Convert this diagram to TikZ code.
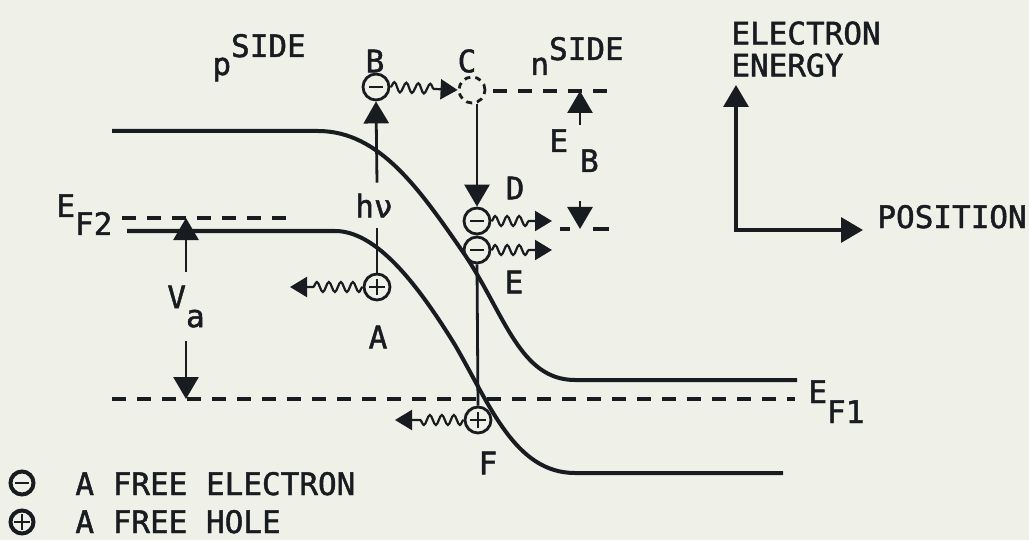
\documentclass[tikz,border=0pt]{standalone}
\usepackage{fontspec}
\setmonofont[BoldFont={DejaVu Sans Mono},BoldFeatures={FakeBold=1.5}]{DejaVu Sans Mono}
\usepackage{tikz}
\usetikzlibrary{arrows.meta,positioning,decorations.pathmorphing}
\definecolor{ScanPaper}{HTML}{EFF1E8}
\definecolor{ScanInk}{HTML}{181B20}

\begin{document}
\begin{tikzpicture}[x=0.5pt,y=-0.5pt,
  every node/.style={font=\fontsize{15.5}{16}\selectfont\ttfamily\bfseries, text=ScanInk, inner sep=0pt},
  band/.style={draw=ScanInk, line width=2pt},
  level/.style={draw=ScanInk, line width=1.8pt, dash pattern=on 7pt off 5.5pt},
  arr/.style={draw=ScanInk, line width=1.4pt, -{Triangle[length=11pt,width=12.5pt]}},
  wavy/.style={draw=ScanInk, line width=1.1pt, -{Triangle[length=8.5pt,width=10pt]}, decorate, decoration={snake, amplitude=2.5pt, segment length=6pt, post length=10pt}},
  particle/.style={circle, draw=ScanInk, line width=1.4pt, minimum size=13pt},
  electron/.style={particle, path picture={\draw[ScanInk, line width=1.4pt] ([xshift=-3.4pt]path picture bounding box.center) -- ([xshift=3.4pt]path picture bounding box.center);}},
  hole/.style={particle, path picture={\draw[ScanInk, line width=1.4pt] ([xshift=-3.8pt]path picture bounding box.center) -- ([xshift=3.8pt]path picture bounding box.center) ([yshift=-3.8pt]path picture bounding box.center) -- ([yshift=3.8pt]path picture bounding box.center);}},
  keymark/.style={minimum size=11.5pt, line width=2pt}
]
\fill[ScanPaper] (0,0) rectangle (1029,540);
\useasboundingbox (0,0) rectangle (1029,540);
% energy bands
\draw[band] (112,131) -- (318,131) .. controls (380,131) and (420,190) .. (465,255) .. controls (505,315) and (520,380) .. (575,380) -- (797,380);
\draw[band] (127,231) -- (335,231) .. controls (375,231) and (415,280) .. (455,345) .. controls (490,405) and (515,473) .. (575,473) -- (783,473);
% dashed levels
\coordinate (ef2l) at (122,218); \coordinate (ef2r) at (290,218);
\coordinate (ef1l) at (112,399); \coordinate (ef1r) at (795,399);
\coordinate (cl) at (493,91); \coordinate (cr) at (617,91);
\coordinate (dl) at (560,229); \coordinate (dr) at (610,229);
\draw[level] (ef2l) -- (ef2r);
\draw[level] (ef1l) -- (ef1r);
\draw[level] (cl) -- (cr);
\draw[level, dash pattern=on 5pt off 11.5pt on 8pt off 5pt] (dl) -- (dr);
% carriers
\node[electron] (B) at (376,87) {};
\node[circle, draw=ScanInk, line width=1.4pt, dash pattern=on 3pt off 2.5pt, minimum size=13pt] (C) at (472,90) {};
\node[electron] (D) at (477,221) {};
\node[electron] (E) at (477,250) {};
\node[hole] (A) at (377,287) {};
\node[hole] (F) at (478,420) {};
\node (labB) at (375,61) {B};
\node (labC) at (467,61) {C};
\node (labD) at (515,188) {D};
\node (labE) at (514,282) {E};
\node (labA) at (378,337) {A};
\node (labF) at (488,463) {F};
\node[minimum height=22.5pt] (hv) at (374,205.5) {hν};
% transitions
\draw[ScanInk, line width=1.4pt] (A.north) -- (A.north |- hv.south);
\draw[arr] (A.north |- hv.north) -- (B.south);
\draw[arr] (C.south -| D.north) -- (D.north);
\draw[ScanInk, line width=1.4pt] (E.south) -- (F.north);
\coordinate (dEnd) at (552,221); \coordinate (eEnd) at (552,250);
\coordinate (aEnd) at (290,287); \coordinate (fEnd) at (395,420);
\draw[wavy] (B.east) -- (C.west);
\draw[wavy] (D.east) -- (dEnd);
\draw[wavy] (E.east) -- (eEnd);
\draw[wavy] (A.west) -- (aEnd);
\draw[wavy] (F.west) -- (fEnd);
% V_a and E_B
\node[minimum height=34pt] (Va) at (186,306.5) {V\raisebox{-9.5pt}{a}};
\draw[arr] (Va.north) -- (Va.north |- ef2l);
\draw[arr] (Va.south) -- (Va.south |- ef1l);
\node[anchor=base west] (EB) at (549,152) {E\hspace{6pt}\raisebox{-10pt}{B}};
\coordinate (ebUp) at (580,125); \coordinate (ebDown) at (580,201);
\draw[arr] (ebUp) -- (ebUp |- cl);
\draw[arr] (ebDown) -- (ebDown |- dl);
% level and side labels
\node[anchor=base west] (EF2) at (56,217) {E\raisebox{-9pt}{F2}};
\node[anchor=base west] (EF1) at (808,403) {E\raisebox{-10pt}{F1}};
\node[anchor=base west] (pside) at (212,75) {p\raisebox{9pt}{SIDE}};
\node[anchor=base west] (nside) at (530,75) {n\raisebox{7.5pt}{SIDE}};
% axes
\coordinate (origin) at (736,230);
\coordinate (eTip) at (736,85);
\coordinate (pTip) at (863,230);
\draw[ScanInk, line width=1.6pt, {Triangle[length=11pt,width=12.5pt]}-{Triangle[length=11pt,width=12.5pt]}] (eTip) -- (origin) -- (pTip);
\node[anchor=north west, align=left] (energy) at (731,21) {ELECTRON\\ENERGY};
\node[anchor=base west] (position) at (877,228) {POSITION};
% key
\node[electron, keymark] (keyE) at (22,483) {};
\node[hole, keymark] (keyH) at (22,522) {};
\node[anchor=base west] (keyEtxt) at (75,495) {A FREE ELECTRON};
\node[anchor=base west] (keyHtxt) at (75,533) {A FREE HOLE};
\end{tikzpicture}
\end{document}
